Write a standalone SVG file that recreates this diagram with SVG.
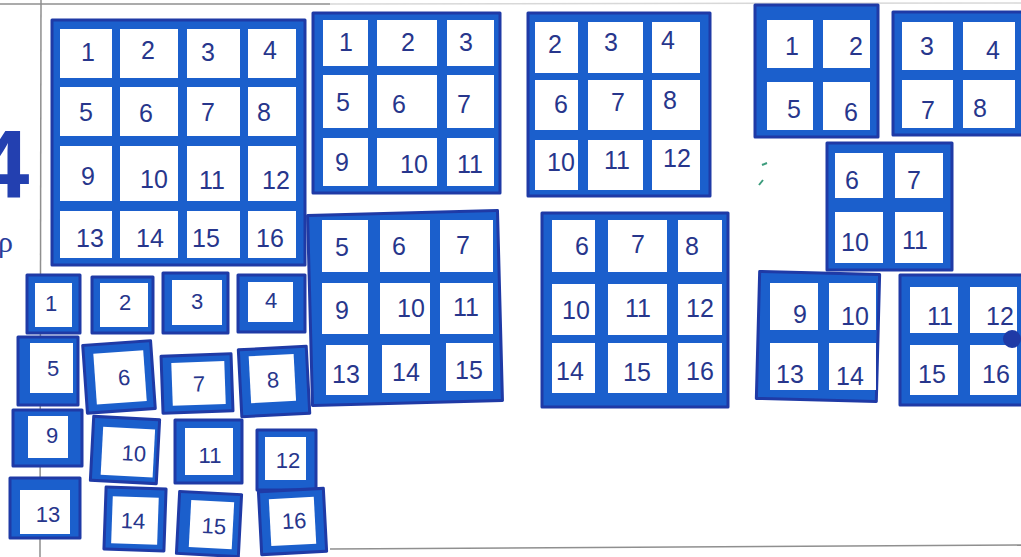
<svg xmlns="http://www.w3.org/2000/svg" width="1021" height="557" viewBox="0 0 1021 557">
<style>
.ink{fill:#1b5fcc;stroke:#1f3aa6;stroke-width:3;stroke-linejoin:round}
.cell{fill:#ffffff}
.n{font-family:"Liberation Sans",Arial,sans-serif;font-size:25px;fill:#27368c;text-anchor:middle;dominant-baseline:central}
.t{font-size:22px}
.rule{stroke:#8f8f8f;stroke-width:1.5;fill:none}
</style>
<rect width="1021" height="557" fill="#ffffff"/>
<g id="page-rules">
<line class="rule" x1="0" y1="4" x2="330" y2="4"/>
<line class="rule" x1="330" y1="4" x2="1021" y2="3" stroke-opacity="0.35"/>
<line class="rule" x1="41" y1="0" x2="40" y2="557"/>
<line class="rule" x1="330" y1="549" x2="1021" y2="545"/>
</g>
<g id="margin-marks">
<text x="-24" y="198" font-family="Liberation Sans,Arial,sans-serif" font-size="96" font-weight="bold" fill="#2340b0">4</text>
<text x="-2" y="252" font-family="Liberation Serif,serif" font-size="30" fill="#2a3c9a">ρ</text>
</g>

<g id="grid-4x4">
<rect class="ink" x="52" y="20" width="253" height="245"/>
<rect class="cell" x="60" y="29" width="52" height="49"/><rect class="cell" x="120" y="29" width="58" height="49"/><rect class="cell" x="187" y="29" width="53" height="49"/><rect class="cell" x="248" y="29" width="48" height="49"/>
<rect class="cell" x="60" y="87" width="52" height="49"/><rect class="cell" x="120" y="87" width="58" height="49"/><rect class="cell" x="187" y="87" width="53" height="49"/><rect class="cell" x="248" y="87" width="48" height="49"/>
<rect class="cell" x="60" y="146" width="52" height="55"/><rect class="cell" x="120" y="146" width="58" height="55"/><rect class="cell" x="187" y="146" width="53" height="55"/><rect class="cell" x="248" y="146" width="48" height="55"/>
<rect class="cell" x="60" y="211" width="52" height="47"/><rect class="cell" x="120" y="211" width="58" height="47"/><rect class="cell" x="187" y="211" width="53" height="47"/><rect class="cell" x="248" y="211" width="48" height="47"/>
<text class="n" x="88" y="52">1</text><text class="n" x="148" y="50">2</text><text class="n" x="208" y="52">3</text><text class="n" x="270" y="50">4</text>
<text class="n" x="86" y="112">5</text><text class="n" x="146" y="113">6</text><text class="n" x="208" y="112">7</text><text class="n" x="264" y="112">8</text>
<text class="n" x="88" y="176">9</text><text class="n" x="154" y="179">10</text><text class="n" x="212" y="180">11</text><text class="n" x="276" y="180">12</text>
<text class="n" x="90" y="238">13</text><text class="n" x="150" y="238">14</text><text class="n" x="206" y="238">15</text><text class="n" x="270" y="238">16</text>
</g>

<g id="grid-1-11">
<rect class="ink" x="313" y="13" width="187" height="180"/>
<rect class="cell" x="323" y="20" width="45" height="46"/><rect class="cell" x="377" y="20" width="60" height="46"/><rect class="cell" x="447" y="20" width="47" height="46"/>
<rect class="cell" x="323" y="75" width="45" height="53"/><rect class="cell" x="377" y="75" width="60" height="53"/><rect class="cell" x="447" y="75" width="47" height="53"/>
<rect class="cell" x="323" y="138" width="45" height="48"/><rect class="cell" x="377" y="138" width="60" height="48"/><rect class="cell" x="447" y="138" width="47" height="48"/>
<text class="n" x="346" y="42">1</text><text class="n" x="408" y="42">2</text><text class="n" x="466" y="42">3</text>
<text class="n" x="343" y="102">5</text><text class="n" x="399" y="104">6</text><text class="n" x="464" y="104">7</text>
<text class="n" x="342" y="162">9</text><text class="n" x="414" y="164">10</text><text class="n" x="470" y="164">11</text>
</g>

<g id="grid-2-12">
<rect class="ink" x="528" y="13" width="182" height="183"/>
<rect class="cell" x="535" y="22" width="43" height="51"/><rect class="cell" x="588" y="22" width="55" height="51"/><rect class="cell" x="652" y="22" width="48" height="51"/>
<rect class="cell" x="535" y="80" width="43" height="50"/><rect class="cell" x="588" y="80" width="55" height="50"/><rect class="cell" x="652" y="80" width="48" height="50"/>
<rect class="cell" x="535" y="140" width="43" height="50"/><rect class="cell" x="588" y="140" width="55" height="50"/><rect class="cell" x="652" y="140" width="48" height="50"/>
<text class="n" x="555" y="44">2</text><text class="n" x="611" y="42">3</text><text class="n" x="668" y="40">4</text>
<text class="n" x="561" y="104">6</text><text class="n" x="618" y="102">7</text><text class="n" x="670" y="100">8</text>
<text class="n" x="561" y="162">10</text><text class="n" x="617" y="160">11</text><text class="n" x="677" y="158">12</text>
</g>

<g id="grid-1-2-5-6">
<rect class="ink" x="755" y="5" width="123" height="132"/>
<rect class="cell" x="767" y="20" width="46" height="48"/><rect class="cell" x="823" y="20" width="47" height="48"/>
<rect class="cell" x="767" y="82" width="46" height="48"/><rect class="cell" x="823" y="82" width="47" height="48"/>
<text class="n" x="792" y="46">1</text><text class="n" x="856" y="46">2</text>
<text class="n" x="794" y="109">5</text><text class="n" x="851" y="112">6</text>
</g>

<g id="grid-3-4-7-8">
<rect class="ink" x="893" y="12" width="130" height="123"/>
<rect class="cell" x="902" y="22" width="51" height="48"/><rect class="cell" x="963" y="22" width="52" height="48"/>
<rect class="cell" x="902" y="80" width="51" height="48"/><rect class="cell" x="963" y="80" width="52" height="48"/>
<text class="n" x="927" y="46">3</text><text class="n" x="993" y="50">4</text>
<text class="n" x="928" y="110">7</text><text class="n" x="980" y="108">8</text>
</g>

<g id="stray-marks">
<path d="M762 165 l5 -2 M759 185 l4 -5" stroke="#3c9c7c" stroke-width="2" fill="none"/>
</g>

<g id="grid-6-7-10-11">
<rect class="ink" x="827" y="143" width="125" height="127"/>
<rect class="cell" x="835" y="153" width="48" height="45"/><rect class="cell" x="895" y="153" width="48" height="45"/>
<rect class="cell" x="835" y="212" width="48" height="51"/><rect class="cell" x="895" y="212" width="48" height="51"/>
<text class="n" x="852" y="180">6</text><text class="n" x="914" y="180">7</text>
<text class="n" x="855" y="242">10</text><text class="n" x="915" y="240">11</text>
</g>

<g id="grid-9-10-13-14">
<rect class="ink" x="758" y="273" width="120" height="127" transform="rotate(1.5 818 336)"/>
<rect class="cell" x="770" y="283" width="48" height="47"/><rect class="cell" x="829" y="283" width="47" height="47"/>
<rect class="cell" x="770" y="343" width="48" height="47"/><rect class="cell" x="829" y="343" width="47" height="47"/>
<text class="n" x="800" y="314">9</text><text class="n" x="855" y="316">10</text>
<text class="n" x="790" y="374">13</text><text class="n" x="850" y="376">14</text>
</g>

<g id="grid-11-12-15-16">
<rect class="ink" x="900" y="275" width="126" height="130"/>
<rect class="cell" x="910" y="287" width="48" height="46"/><rect class="cell" x="970" y="287" width="47" height="46"/>
<rect class="cell" x="910" y="345" width="48" height="50"/><rect class="cell" x="970" y="345" width="47" height="50"/>
<circle cx="1012" cy="339" r="9" fill="#1f3aa6"/>
<text class="n" x="940" y="316">11</text><text class="n" x="1000" y="316">12</text>
<text class="n" x="932" y="374">15</text><text class="n" x="996" y="374">16</text>
</g>

<g id="grid-5-15">
<rect class="ink" x="310" y="213" width="190" height="190" transform="rotate(-1.5 405 308)"/>
<rect class="cell" x="322" y="220" width="46" height="52"/><rect class="cell" x="380" y="220" width="50" height="52"/><rect class="cell" x="440" y="220" width="53" height="52"/>
<rect class="cell" x="322" y="283" width="46" height="51"/><rect class="cell" x="380" y="283" width="50" height="51"/><rect class="cell" x="440" y="283" width="53" height="51"/>
<rect class="cell" x="326" y="345" width="42" height="50"/><rect class="cell" x="382" y="345" width="48" height="48"/><rect class="cell" x="446" y="343" width="47" height="48"/>
<text class="n" x="342" y="247">5</text><text class="n" x="399" y="246">6</text><text class="n" x="463" y="245">7</text>
<text class="n" x="342" y="310">9</text><text class="n" x="411" y="308">10</text><text class="n" x="466" y="307">11</text>
<text class="n" x="346" y="374">13</text><text class="n" x="406" y="372">14</text><text class="n" x="469" y="370">15</text>
</g>

<g id="grid-6-16">
<rect class="ink" x="542" y="213" width="186" height="194"/>
<rect class="cell" x="552" y="220" width="43" height="52"/><rect class="cell" x="608" y="220" width="59" height="52"/><rect class="cell" x="678" y="220" width="44" height="52"/>
<rect class="cell" x="552" y="284" width="43" height="51"/><rect class="cell" x="608" y="284" width="59" height="51"/><rect class="cell" x="678" y="284" width="44" height="51"/>
<rect class="cell" x="552" y="343" width="43" height="50"/><rect class="cell" x="608" y="343" width="59" height="50"/><rect class="cell" x="678" y="343" width="44" height="50"/>
<text class="n" x="582" y="246">6</text><text class="n" x="638" y="244">7</text><text class="n" x="692" y="246">8</text>
<text class="n" x="576" y="310">10</text><text class="n" x="638" y="308">11</text><text class="n" x="700" y="308">12</text>
<text class="n" x="570" y="371">14</text><text class="n" x="637" y="372">15</text><text class="n" x="700" y="371">16</text>
</g>

<g id="tile-1"><rect class="ink" x="27" y="275" width="53" height="58"/><rect class="cell" x="35" y="283" width="37" height="44"/><text class="n t" x="51" y="303">1</text></g>
<g id="tile-2"><rect class="ink" x="92" y="277" width="61" height="56"/><rect class="cell" x="100" y="283" width="48" height="44"/><text class="n t" x="125" y="302">2</text></g>
<g id="tile-3"><rect class="ink" x="163" y="273" width="65" height="60"/><rect class="cell" x="172" y="280" width="50" height="45"/><text class="n t" x="197" y="301">3</text></g>
<g id="tile-4"><rect class="ink" x="238" y="275" width="67" height="57"/><rect class="cell" x="248" y="282" width="45" height="40"/><text class="n t" x="271" y="300">4</text></g>
<g id="tile-5"><rect class="ink" x="18" y="337" width="60" height="68"/><rect class="cell" x="30" y="343" width="43" height="50"/><text class="n t" x="53" y="368">5</text></g>
<g id="tile-6" transform="rotate(-4 118 377)"><rect class="ink" x="85" y="343" width="68" height="68"/><rect class="cell" x="95" y="352" width="50" height="51"/><text class="n t" x="124" y="378">6</text></g>
<g id="tile-7" transform="rotate(-2 197 383)"><rect class="ink" x="162" y="355" width="70" height="57"/><rect class="cell" x="172" y="362" width="53" height="43"/><text class="n t" x="199" y="384">7</text></g>
<g id="tile-8" transform="rotate(-3 274 381)"><rect class="ink" x="240" y="348" width="68" height="67"/><rect class="cell" x="250" y="355" width="45" height="47"/><text class="n t" x="273" y="380">8</text></g>
<g id="tile-9"><rect class="ink" x="13" y="410" width="69" height="56"/><rect class="cell" x="28" y="416" width="40" height="42"/><text class="n t" x="52" y="435">9</text></g>
<g id="tile-10" transform="rotate(3 125 450)"><rect class="ink" x="92" y="418" width="66" height="64"/><rect class="cell" x="102" y="428" width="52" height="48"/><text class="n t" x="134" y="453">10</text></g>
<g id="tile-11"><rect class="ink" x="175" y="420" width="67" height="63"/><rect class="cell" x="185" y="428" width="48" height="47"/><text class="n t" x="210" y="455">11</text></g>
<g id="tile-12"><rect class="ink" x="257" y="430" width="59" height="60"/><rect class="cell" x="265" y="437" width="41" height="43"/><text class="n t" x="288" y="460">12</text></g>
<g id="tile-13"><rect class="ink" x="10" y="478" width="70" height="60"/><rect class="cell" x="20" y="490" width="50" height="44"/><text class="n t" x="48" y="514">13</text></g>
<g id="tile-14" transform="rotate(2 135 519)"><rect class="ink" x="105" y="488" width="60" height="62"/><rect class="cell" x="112" y="497" width="46" height="47"/><text class="n t" x="133" y="521">14</text></g>
<g id="tile-15" transform="rotate(3 209 524)"><rect class="ink" x="178" y="493" width="62" height="62"/><rect class="cell" x="190" y="501" width="43" height="47"/><text class="n t" x="214" y="526">15</text></g>
<g id="tile-16" transform="rotate(-3 292 521)"><rect class="ink" x="260" y="490" width="65" height="63"/><rect class="cell" x="270" y="498" width="45" height="47"/><text class="n t" x="294" y="521">16</text></g>
</svg>
